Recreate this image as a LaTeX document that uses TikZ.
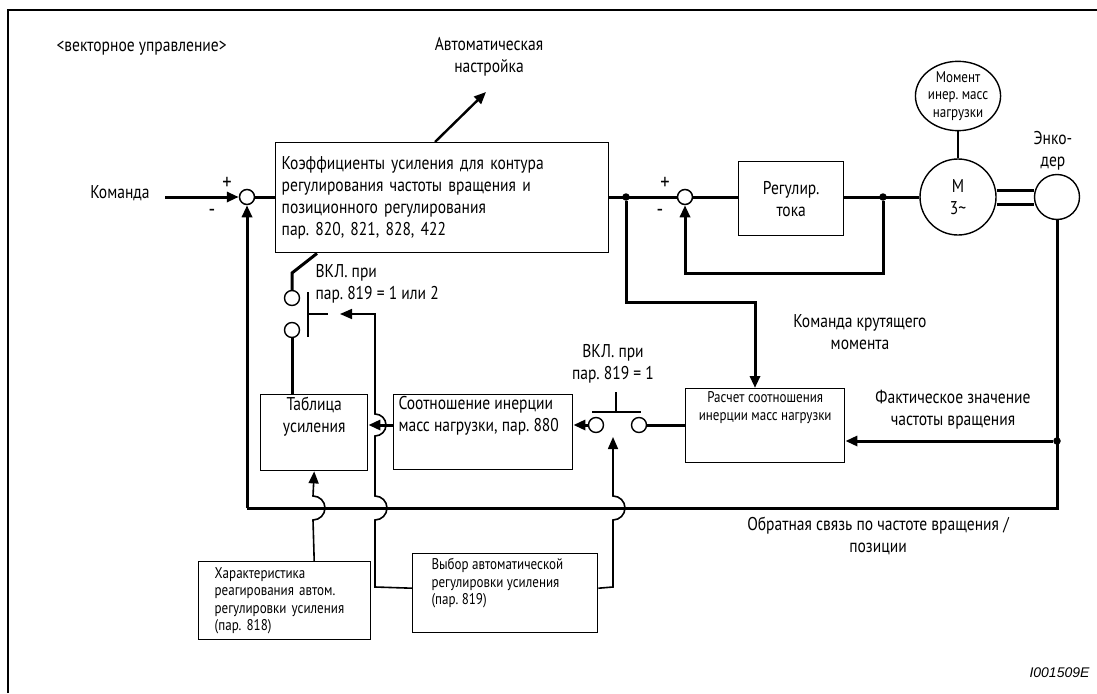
\documentclass[tikz,border=0pt]{standalone}
\usepackage{fontspec}
\setmainfont[FakeStretch=0.84]{PT Sans}
\newfontfamily\codefont{Liberation Sans}
\usetikzlibrary{arrows.meta,positioning,shapes.geometric}
\frenchspacing

\tikzset{
  sig/.style={line width=3pt},
  ctl/.style={line width=1.6pt},
  blk/.style={draw,line width=1.4pt,inner sep=0pt},
  sumpt/.style={circle,draw,line width=1.5pt,fill=white,minimum size=15pt,inner sep=0pt},
  contact/.style={circle,draw,line width=1.4pt,fill=white,minimum size=15pt,inner sep=0pt},
  jdot/.style={circle,fill,inner sep=0pt,minimum size=7.5pt},
  txtbig/.style={font=\fontsize{18.5}{22}\selectfont},
  txtsmall/.style={font=\fontsize{15.5}{17.5}\selectfont},
  sign/.style={font=\fontsize{22}{22}\selectfont},
}

\begin{document}
\begin{tikzpicture}[x=1pt,y=-1pt,>={Triangle[length=12pt,width=10pt]},txtbig]
\useasboundingbox (0,0) rectangle (1097,693);
% frame
\draw[line width=2.6pt] (8,693) -- (8,10) -- (1097,10);
\node[anchor=west] (title) at (53,48) {<векторное управление>};

% speed / position loop
\node (cmd) at (120,193) {Команда};
\coordinate (cmdin) at (165,197);
\node[sumpt] (s1) at (247,197) {};
\node[sign] (p1) at (227,183) {+};
\node[sign] (m1) at (212,213) {-};
\node[blk,anchor=north west,minimum width=333pt,minimum height=110pt,text width=321pt,inner xsep=6pt,align=left] (gains) at (275,142)
  {Коэффициенты усиления для контура\\регулирования частоты вращения и\\позиционного регулирования\\пар. 820, 821, 828, 422};
\node[align=center] (auto) at (489,57) {Автоматическая\\настройка};
\coordinate (autotip) at (486,92);
\draw[line width=2.4pt,->] ([xshift=160pt]gains.north west) -- (autotip);

% current loop and motor
\node[jdot] (d1) at (626,197) {};
\node[sumpt] (s2) at (685,197) {};
\node[sign] (p2) at (665,183) {+};
\node[sign] (m2) at (660,213) {-};
\node[blk,anchor=north west,minimum width=105pt,minimum height=74pt,align=center] (cur) at (738,161) {Регулир.\\тока};
\node[jdot] (d2) at (883,197) {};
\node[circle,draw,line width=1.4pt,minimum size=76pt,inner sep=0pt,align=center] (motor) at (958,197) {M\\3\textasciitilde};
\node[ellipse,draw,line width=1.4pt,minimum width=75pt,minimum height=62pt,inner sep=0pt,align=center,txtsmall] (load) at (958,96) {Момент\\инер. масс\\нагрузки};
\node[circle,draw,line width=1.4pt,minimum size=45pt] (enc) at (1057,197) {};
\node[align=center] (enctxt) at (1053,151) {Энко-\\дер};

\draw[ctl] (load) -- (motor);
\draw[sig,->] (cmdin) -- (s1);
\draw[sig] (s1) -- (s1 -| gains.west);
\draw[sig] (gains.east |- s2) -- (s2);
\draw[sig] (s2) -- (cur.west |- s2);
\draw[sig] (cur.east |- motor) -- (motor);
\draw[sig] ([yshift=7pt]motor.east) -- ([yshift=7pt]enc.west);
\draw[sig] ([yshift=-7pt]motor.east) -- ([yshift=-7pt]enc.west);
\coordinate (cfb) at (685,273);
\draw[sig,->] (d2) |- (cfb) -- (s2);

% inertia estimation
\node[blk,anchor=north west,minimum width=159pt,minimum height=74pt] (calc) at (685,388) {};
\node[txtsmall,align=center,anchor=north] (calctxt) at (calc.north) {Расчет соотношения\\инерции масс нагрузки};
\coordinate (tq) at (755,302);
\draw[sig,->] (d1) |- (tq) -- (tq |- calc.north);
\node[align=center] (tqtxt) at (860,332) {Команда крутящего\\момента};

\node[jdot] (d3) at (1057,441) {};
\coordinate (fbR) at (1057,508);
\coordinate (fbL) at (247,508);
\draw[sig] (enc) -- (fbR) -- (fbL);
\draw[sig,->] (fbL) -- (s1);
\draw[sig,->] (d3) -- (d3 -| calc.east);
\node[align=center] (acttxt) at (953,410) {Фактическое значение\\частоты вращения};
\node[align=center] (fbtxt) at (878,536) {Обратная связь по частоте вращения /\\позиции};

% switch 819 = 1
\node[contact] (sw2a) at (596,425) {};
\node[contact] (sw2b) at (639,425) {};
\coordinate (bar2L) at (592,412);
\coordinate (bar2R) at (641,412);
\coordinate (stem2) at (616,392);
\draw[ctl] (bar2L) -- (bar2R);
\draw[ctl] (stem2) -- (stem2 |- bar2L);
\node[align=center] (sw2txt) at (613,364) {ВКЛ. при\\пар. 819 = 1};

\node[blk,anchor=north west,minimum width=179pt,minimum height=75pt] (ratio) at (393,394) {};
\node[anchor=north west,align=left] (ratiotxt) at (395,393) {Соотношение инерции\\масс нагрузки, пар. 880};
\node[blk,anchor=north west,minimum width=107pt,minimum height=76pt] (gtab) at (260,394) {};
\node[anchor=north,align=center] (gtabtxt) at (gtab.north) {Таблица\\усиления};

\draw[sig,->] (sw2a) -- (sw2a -| ratio.east);
\draw[sig] (sw2b) -- (calc.west |- sw2b);
\draw[sig,->] (ratio.west |- sw2a) -- (gtab.east |- sw2a);

% switch 819 = 1 or 2
\node[contact] (sw1a) at (292,298) {};
\node[contact] (sw1b) at (292,330) {};
\coordinate (kink) at (292,273);
\draw[sig] ([xshift=42pt]gains.south west) -- (kink) -- (sw1a);
\draw[sig] (sw1b) -- (sw1b |- gtab.north);
\coordinate (act1T) at (308,292);
\coordinate (act1B) at (308,337);
\coordinate (act1R) at (328,314);
\draw[ctl] (act1T) -- (act1B);
\draw[ctl] (act1T |- act1R) -- (act1R);
\node[anchor=north west,align=left] (sw1txt) at (312,261) {ВКЛ. при\\пар. 819 = 1 или 2};

% parameter boxes
\node[blk,anchor=north west,minimum width=185pt,minimum height=79pt] (sel) at (412,553) {};
\node[txtsmall,anchor=north west,align=left] (seltxt) at (428,555) {Выбор автоматической\\регулировки усиления\\(пар. 819)};
\node[blk,txtsmall,anchor=north west,minimum width=171pt,minimum height=78pt,text width=140pt,inner xsep=16pt,align=left] (resp) at (198,561)
  {Характеристика\\реагирования автом.\\регулировки усиления\\(пар. 818)};

\coordinate (sw1tip) at (340,314);
\coordinate (sw2tip) at (613,437);
\draw[ctl,->] (gtab.south |- resp.north) -- (313,520) arc[start angle=-90,end angle=90,radius=12pt] -- (gtab.south);
\draw[ctl,->] ([yshift=5pt]sel.west) -- (375,587) -- (375,520) arc[start angle=-90,end angle=90,radius=12pt]
  -- (375,436) arc[start angle=-90,end angle=90,radius=11pt] -- (375,314) -- (sw1tip);
\draw[ctl,->] ([yshift=5pt]sel.east) -- (613,587) -- (613,520) arc[start angle=-90,end angle=90,radius=12pt] -- (sw2tip);

\node[anchor=east,font=\codefont\fontsize{14}{16}\selectfont\itshape] (code) at (1093,673) {I001509E};
\end{tikzpicture}
\end{document}
